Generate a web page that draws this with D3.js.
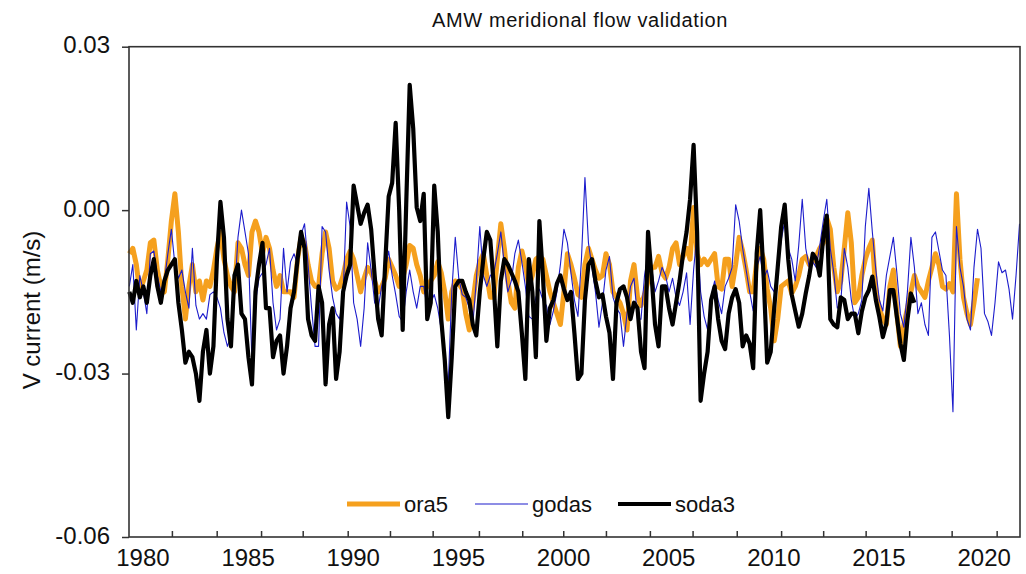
<!DOCTYPE html>
<html>
<head>
<meta charset="utf-8">
<script src="https://cdn.jsdelivr.net/npm/d3@7"></script>
<style>
	body { margin: 0; background: #fff; }
	svg { display: block; font-family: Arial, "Liberation Sans", sans-serif; }
</style>
</head>
<body>
<svg id="chart" width="1026" height="574"></svg>
<script>
// bi-monthly samples, values in 1e-3 m/s
const startYear = 1979.375;
const stepYears = 1 / 6;

const ora5 = [
	-8, -7, -10, -15, -13, -11, -6, -5.5, -11, -14,
	-15, -9, -2, 3, -4, -14, -20, -14, -10, -15,
	-13, -16.5, -13, -14, -11, -7, -4, -9, -12, -14,
	-15, -6, -7, -10, -12, -4, -2, -4, -8, -5,
	-7, -11, -14, -12, -15, -15, -15, -16, -9, -5,
	-6, -10, -13, -14, -14, -8, -4, -7, -13, -14.5,
	-14, -12, -9, -7.5, -9, -12, -15, -12.5, -10.5, -11.5,
	-13, -15, -14, -12.5, -9, -10.5, -12, -14, -12.5, -10,
	-6.5, -7, -10, -12, -15, -14, -13, -12, -9.5, -11.5,
	-15, -20, -15, -13, -13.5, -14.5, -19, -22, -17, -12,
	-9.5, -8, -12, -16, -16, -9, -2.5, -7, -13, -17,
	-18, -10.5, -7.5, -10, -14, -12, -9, -8.5, -9, -12,
	-15, -17, -19, -21, -15, -8, -10, -12.5, -15.5, -16,
	-10, -7, -9, -11, -12.5, -12, -8, -10, -15, -16,
	-17, -19, -22, -13, -10, -16, -17.5, -15.5, -13, -10.5,
	-10.5, -8.5, -11.5, -12.5, -10.5, -7, -6, -10, -8.5, -7,
	-9, 0.5, -8, -10, -9, -10, -9, -8, -14, -14.5,
	-9, -9, -14, -10, -5, -7.5, -11, -15, -15, -9.5,
	-7, -9, -14.5, -18, -24, -20, -14, -13.5, -13, -15.3,
	-14, -12, -9, -8.5, -10, -9.5, -8.5, -7, -6, -1.5,
	-3.5, -10.5, -15, -13, -7, -0.5, -6, -17, -16, -12,
	-9, -7, -5.5, -15, -18, -20, -21, -14, -11, -19,
	-25, -21, -18, -15, -12, -14, -15, -16, -13, -10.5,
	-8, -10, -14, -14.5, -13.5, -15, 3, -9, -16, -19,
	-21, -17, -12.5
];

const godas = [
	-14, -10, -22, -12, -15, -19, -8, -7.5, -12, -15,
	-13, -8, -3.5, -10, -12.5, -11, -15, -18, -7, -17.5,
	-20, -19, -20, -15.5, -15, -16, -18, -22.5, -25, -23,
	-16, -5, 0, -4, -8, -28, -17, -12.5, -11.5, -10,
	-7, -17, -22, -20, -7, -15, -9.5, -8, -10, -4.5,
	-2.5, -10, -18, -25, -25, -3, -4, -11, -16, -19,
	-20, -15.5, 1.5, -3, -17, -20, -25, -18, -6, -11,
	-17, -18, -14, -11, -7.5, -12, -15.5, -19.5, -20.5, -15,
	-11, -15, -18, -14, -14, -18, -17, -15.5, -18, -22,
	-27, -32, -15, -5, -12.5, -15.5, -16, -18, -21, -13,
	-3, -12, -14, -12, -11.5, -8, -4, -10, -15, -13,
	-8, -5.5, -9.5, -14, -19.5, -20, -16, -14.5, -16.5, -17.5,
	-21, -18.5, -15, -10, -3.5, -6, -11.5, -16.5, -19.5, -9,
	6, -6, -10.5, -15, -21.5, -17, -11, -8.5, -16, -18,
	-19, -25, -19, -14, -12.5, -20, -20, -12, -8, -10.5,
	-15, -13, -10.5, -12, -15, -12.5, -16, -17.5, -15, -11.5,
	-21, -11, -4, -15, -19.5, -22, -16, -13, -16.5, -19,
	-14, -12.5, -10.5, 1, -2, -7, -11, -15, -18.5, -10.5,
	-8.5, -12.5, -11, -14, -15, -10.5, -5.5, -2, -7, -9,
	-13, -6.5, 2, -7, -10.5, -9.5, -10.5, -6.5, -2, 2,
	-7, -11.5, -18, -17, -7, -10.5, -16.5, -20, -19, -16.5,
	-3, 4, -4, -11, -16.5, -18.5, -12, -8.5, -5, -11.5,
	-19, -21.5, -15, -5, -10.5, -19, -17, -21, -23, -5,
	-4, -7.5, -11, -12, -23, -37, -3, -10.5, -14, -20,
	-22, -10.5, -3.5, -7, -19, -20.5, -23, -17, -9.5, -11.5,
	-11, -14.5, -20, -12, -2.5
];

const soda3 = [
	-15, -17, -13, -16, -14, -17, -12, -9, -14, -17,
	-13, -11, -10, -9, -17, -22, -28, -26, -27, -30,
	-35, -26, -22, -30, -25, -9, 1.5, -5, -20, -25,
	-12, -10, -19, -20, -27, -32, -15, -10, -6, -18,
	-18, -27, -24, -23, -30, -25, -18, -15, -9, -4,
	-7, -20, -23, -24, -14, -17, -32, -21, -18, -31,
	-26, -15, -12, -10, 4.5, 1, -2.5, -0.5, 1, -3.5,
	-12, -20, -23, -10, 2.5, 5, 16, 0, -22, 1,
	23, 15, 0.5, -2, 3, -20, -17, 4.5, -4, -20,
	-27.5, -38, -27, -14, -13, -13, -15, -16.5, -21, -23,
	-15, -9, -4, -5.5, -14, -25, -13, -9, -10, -11.5,
	-13, -15, -22.6, -31, -9, -15, -27, -2, -12, -24,
	-18, -16.5, -13.5, -12, -14.5, -16.5, -15, -22.6, -31, -30,
	-16.5, -10, -9, -13, -16, -15.5, -19.5, -22.5, -31, -17,
	-14.5, -14, -16, -20, -17, -18, -26, -29, -4, -12,
	-21, -25, -14, -14, -18, -21, -17, -13, -8, -4,
	2, 12, -4, -35, -30, -26, -16.5, -14, -20, -24,
	-25.5, -19, -16, -14.5, -17, -25, -23, -24.5, -29, -8,
	0, -12.5, -28, -26, -18, -10.5, -3, 1, -9, -15.5,
	-18.5, -21.4, -19, -15.3, -12, -8, -9, -12, -5, -1,
	-20, -21, -21.5, -16, -16.5, -20, -19, -19, -22.6, -18.6,
	-16, -14.7, -12.2, -16.5, -19.6, -23.3, -20.8, -14.7, -14.7, -19.6,
	-24.5, -27.5, -20.2, -15.3, -17
];

const seriesNames = ["ora5", "godas", "soda3"];
const seriesColors = ["#f5a01e", "#1c1ccc", "#000000"];
const seriesWidths = [5, 1.1, 4.2];

const yTicks = [0.03, 0, -0.03, -0.06];
const yTickLabels = ["0.03", "0.00", "-0.03", "-0.06"];
const xLabelYears = [1980, 1985, 1990, 1995, 2000, 2005, 2010, 2015, 2020];
const xMinorTicks = [1981.40, 1983.53, 1985.64, 1987.62, 1989.76, 1991.77, 1993.80, 1996.00, 1998.06, 2000.01,
	2002.04, 2004.13, 2006.16, 2008.26, 2010.37, 2012.37, 2014.39, 2016.46, 2018.48, 2020.62];

const svg = d3.select("#chart");
const plotLeft = 129, plotRight = 1020, plotTop = 46.7, plotBottom = 537;

const x = d3.scaleLinear().domain([1979.36, 2021.73]).range([plotLeft, plotRight]);
const y = d3.scaleLinear().domain([-0.06, 0.03]).range([plotBottom, plotTop]);

svg.append("rect")
	.attr("width", 1026).attr("height", 574).attr("fill", "#fff");

// series
const allSeries = [ora5, godas, soda3].map((vals, i) => ({
	name: seriesNames[i],
	color: seriesColors[i],
	width: seriesWidths[i],
	points: vals.map((v, k) => ({ t: startYear + k * stepYears, v: v / 1000 }))
}));

const line = d3.line()
	.x(d => x(d.t))
	.y(d => y(d.v));

svg.selectAll("path.series")
	.data(allSeries)
	.enter()
	.append("path")
	.attr("class", "series")
	.attr("d", d => line(d.points))
	.attr("fill", "none")
	.attr("stroke", d => d.color)
	.attr("stroke-width", d => d.width)
	.attr("stroke-linejoin", "round");

// y axis
const yAxis = svg.append("g")
	.attr("transform", `translate(${plotLeft},0)`)
	.call(d3.axisLeft(y).tickValues(yTicks).tickSize(7).tickPadding(12)
		.tickFormat((d, i) => yTickLabels[i]));
yAxis.select(".domain").remove();
yAxis.selectAll("line").attr("stroke", "#333").attr("stroke-width", 1.5);
yAxis.selectAll("text")
	.attr("dy", "0.26em")
	.attr("fill", "#111")
	.style("font-size", "24px")
	.style("font-family", "Arial, 'Liberation Sans', sans-serif");

// x axis labels + inside minor ticks
const xAxis = svg.append("g")
	.attr("transform", `translate(0,${plotBottom})`)
	.call(d3.axisBottom(x).tickValues(xLabelYears).tickSize(0).tickPadding(12)
		.tickFormat(d3.format("d")));
xAxis.select(".domain").remove();
xAxis.selectAll("text")
	.attr("fill", "#111")
	.style("font-size", "24px")
	.style("font-family", "Arial, 'Liberation Sans', sans-serif");

const xMinor = svg.append("g")
	.attr("transform", `translate(0,${plotBottom})`)
	.call(d3.axisBottom(x).tickValues(xMinorTicks).tickSizeInner(-6).tickSizeOuter(0).tickFormat(""));
xMinor.select(".domain").remove();
xMinor.selectAll("line").attr("stroke", "#333").attr("stroke-width", 1.5);

// frame
svg.append("rect")
	.attr("x", plotLeft).attr("y", plotTop)
	.attr("width", plotRight - plotLeft).attr("height", plotBottom - plotTop)
	.attr("fill", "none")
	.attr("stroke", "#333")
	.attr("stroke-width", 1.6);

// title and axis title
svg.append("text")
	.attr("x", 580).attr("y", 27)
	.attr("text-anchor", "middle")
	.attr("fill", "#111")
	.style("font-size", "20px")
	.style("letter-spacing", "0.6px")
	.text("AMW meridional flow validation");

svg.append("text")
	.attr("transform", "translate(40,310) rotate(-90)")
	.attr("text-anchor", "middle")
	.attr("fill", "#111")
	.style("font-size", "24px")
	.text("V current (m/s)");

// legend
const legendX = [347, 475, 618];
const legend = svg.selectAll("g.legend")
	.data(allSeries)
	.enter()
	.append("g")
	.attr("class", "legend")
	.attr("transform", (d, i) => `translate(${legendX[i]},504)`);

legend.append("line")
	.attr("x1", 0).attr("x2", 53)
	.attr("stroke", d => d.color)
	.attr("stroke-width", d => d.width);

legend.append("text")
	.attr("x", 57).attr("y", 8)
	.attr("fill", "#111")
	.style("font-size", "22px")
	.text(d => d.name);
</script>
</body>
</html>
